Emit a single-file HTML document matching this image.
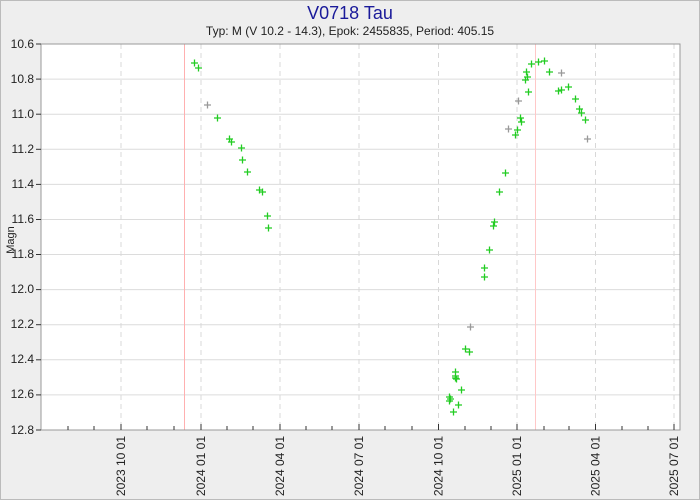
<!DOCTYPE html><html><head><style>html,body{margin:0;padding:0;overflow:hidden;background:#eeeeee;font-family:"Liberation Sans",sans-serif}svg{display:block}</style></head><body>
<svg width="700" height="500" xmlns="http://www.w3.org/2000/svg" font-family="Liberation Sans, sans-serif">
<rect width="700" height="500" fill="#eeeeee"/>
<rect x="0.5" y="0.5" width="699" height="499" fill="none" stroke="#bbb"/>
<rect x="41" y="44" width="639" height="386" fill="#fff"/>
<g stroke="#dcdcdc">
<line x1="41" x2="680" y1="79.1" y2="79.1"/><line x1="41" x2="680" y1="114.2" y2="114.2"/><line x1="41" x2="680" y1="149.3" y2="149.3"/><line x1="41" x2="680" y1="184.4" y2="184.4"/><line x1="41" x2="680" y1="219.5" y2="219.5"/><line x1="41" x2="680" y1="254.5" y2="254.5"/><line x1="41" x2="680" y1="289.6" y2="289.6"/><line x1="41" x2="680" y1="324.7" y2="324.7"/><line x1="41" x2="680" y1="359.8" y2="359.8"/><line x1="41" x2="680" y1="394.9" y2="394.9"/>
</g>
<g stroke="#d8d8d8" stroke-dasharray="5,4">
<line x1="121" x2="121" y1="44" y2="430"/><line x1="201" x2="201" y1="44" y2="430"/><line x1="280" x2="280" y1="44" y2="430"/><line x1="359" x2="359" y1="44" y2="430"/><line x1="438.5" x2="438.5" y1="44" y2="430"/><line x1="517" x2="517" y1="44" y2="430"/><line x1="595.5" x2="595.5" y1="44" y2="430"/><line x1="674" x2="674" y1="44" y2="430"/>
</g>
<line x1="184.5" x2="184.5" y1="44" y2="430" stroke="#ffb0b0"/>
<line x1="535.5" x2="535.5" y1="44" y2="430" stroke="#ffc8c8"/>
<rect x="41" y="44" width="639" height="386" fill="none" stroke="#999"/>
<g stroke="#333">
<line x1="36" x2="41" y1="44" y2="44"/><line x1="36" x2="41" y1="79.1" y2="79.1"/><line x1="36" x2="41" y1="114.2" y2="114.2"/><line x1="36" x2="41" y1="149.3" y2="149.3"/><line x1="36" x2="41" y1="184.4" y2="184.4"/><line x1="36" x2="41" y1="219.5" y2="219.5"/><line x1="36" x2="41" y1="254.5" y2="254.5"/><line x1="36" x2="41" y1="289.6" y2="289.6"/><line x1="36" x2="41" y1="324.7" y2="324.7"/><line x1="36" x2="41" y1="359.8" y2="359.8"/><line x1="36" x2="41" y1="394.9" y2="394.9"/><line x1="36" x2="41" y1="430" y2="430"/>
<line x1="68" x2="68" y1="426" y2="430"/><line x1="94" x2="94" y1="426" y2="430"/><line x1="121" x2="121" y1="424" y2="430"/><line x1="147" x2="147" y1="426" y2="430"/><line x1="174" x2="174" y1="426" y2="430"/><line x1="201" x2="201" y1="424" y2="430"/><line x1="227" x2="227" y1="426" y2="430"/><line x1="253" x2="253" y1="426" y2="430"/><line x1="280" x2="280" y1="424" y2="430"/><line x1="306" x2="306" y1="426" y2="430"/><line x1="332" x2="332" y1="426" y2="430"/><line x1="359" x2="359" y1="424" y2="430"/><line x1="385" x2="385" y1="426" y2="430"/><line x1="412" x2="412" y1="426" y2="430"/><line x1="438.5" x2="438.5" y1="424" y2="430"/><line x1="465" x2="465" y1="426" y2="430"/><line x1="491" x2="491" y1="426" y2="430"/><line x1="517" x2="517" y1="424" y2="430"/><line x1="544" x2="544" y1="426" y2="430"/><line x1="569" x2="569" y1="426" y2="430"/><line x1="595.5" x2="595.5" y1="424" y2="430"/><line x1="622" x2="622" y1="426" y2="430"/><line x1="648" x2="648" y1="426" y2="430"/><line x1="674" x2="674" y1="424" y2="430"/>
</g>
<g font-size="12" fill="#222" text-anchor="end">
<text x="34" y="48">10.6</text><text x="34" y="83">10.8</text><text x="34" y="118">11.0</text><text x="34" y="153">11.2</text><text x="34" y="188">11.4</text><text x="34" y="223">11.6</text><text x="34" y="258">11.8</text><text x="34" y="293">12.0</text><text x="34" y="328">12.2</text><text x="34" y="363">12.4</text><text x="34" y="398">12.6</text><text x="34" y="434">12.8</text>
</g>
<g font-size="12" fill="#222" text-anchor="end">
<text transform="translate(125,436) rotate(-90)">2023 10 01</text><text transform="translate(205,436) rotate(-90)">2024 01 01</text><text transform="translate(284,436) rotate(-90)">2024 04 01</text><text transform="translate(363,436) rotate(-90)">2024 07 01</text><text transform="translate(442.5,436) rotate(-90)">2024 10 01</text><text transform="translate(521,436) rotate(-90)">2025 01 01</text><text transform="translate(599.5,436) rotate(-90)">2025 04 01</text><text transform="translate(678,436) rotate(-90)">2025 07 01</text>
</g>
<text x="14" y="240" font-size="11" fill="#222" text-anchor="middle" transform="rotate(-90 14 240)">Magn</text>
<text x="350" y="19" font-size="18" fill="#1a1a9a" text-anchor="middle">V0718 Tau</text>
<text x="350" y="35" font-size="12" fill="#222" text-anchor="middle">Typ: M (V 10.2 - 14.3), Epok: 2455835, Period: 405.15</text>
<g stroke="#22cc22" stroke-width="1.3">
<path d="M191 63h7M194.5 59.5v7M195 68h7M198.5 64.5v7M226 139h7M229.5 135.5v7M228 142h7M231.5 138.5v7M214 118h7M217.5 114.5v7M238 148h7M241.5 144.5v7M239 160h7M242.5 156.5v7M244 172h7M247.5 168.5v7M256 190h7M259.5 186.5v7M259 192h7M262.5 188.5v7M264 216h7M267.5 212.5v7M265 228h7M268.5 224.5v7"/>
<path d="M446 397h7M449.5 393.5v7M446 401h7M449.5 397.5v7M447 399h7M450.5 395.5v7M452 372h7M455.5 368.5v7M452 376h7M455.5 372.5v7M453 379h7M456.5 375.5v7M452 378h7M455.5 374.5v7M455 405h7M458.5 401.5v7M458 390h7M461.5 386.5v7M450 412h7M453.5 408.5v7M462 349h7M465.5 345.5v7M466 352h7M469.5 348.5v7M481 268h7M484.5 264.5v7M481 277h7M484.5 273.5v7M486 250h7M489.5 246.5v7M490 226h7M493.5 222.5v7M491 222h7M494.5 218.5v7M496 192h7M499.5 188.5v7M502 173h7M505.5 169.5v7M512 135h7M515.5 131.5v7M514 130h7M517.5 126.5v7M517 118h7M520.5 114.5v7M518 122h7M521.5 118.5v7M522 80h7M525.5 76.5v7M523 72h7M526.5 68.5v7M524 77h7M527.5 73.5v7M525 92h7M528.5 88.5v7M528 64h7M531.5 60.5v7M535 62h7M538.5 58.5v7M541 61h7M544.5 57.5v7M546 72h7M549.5 68.5v7M555 91h7M558.5 87.5v7M558 90h7M561.5 86.5v7M565 87h7M568.5 83.5v7M572 99h7M575.5 95.5v7M576 109h7M579.5 105.5v7M578 113h7M581.5 109.5v7M582 120h7M585.5 116.5v7"/>
</g>
<g stroke="#999" stroke-width="1.3">
<path d="M204 105h7M207.5 101.5v7M467 327h7M470.5 323.5v7M505 129h7M508.5 125.5v7M515 101h7M518.5 97.5v7M558 73h7M561.5 69.5v7M584 139h7M587.5 135.5v7"/>
</g>
</svg>
</body></html>
